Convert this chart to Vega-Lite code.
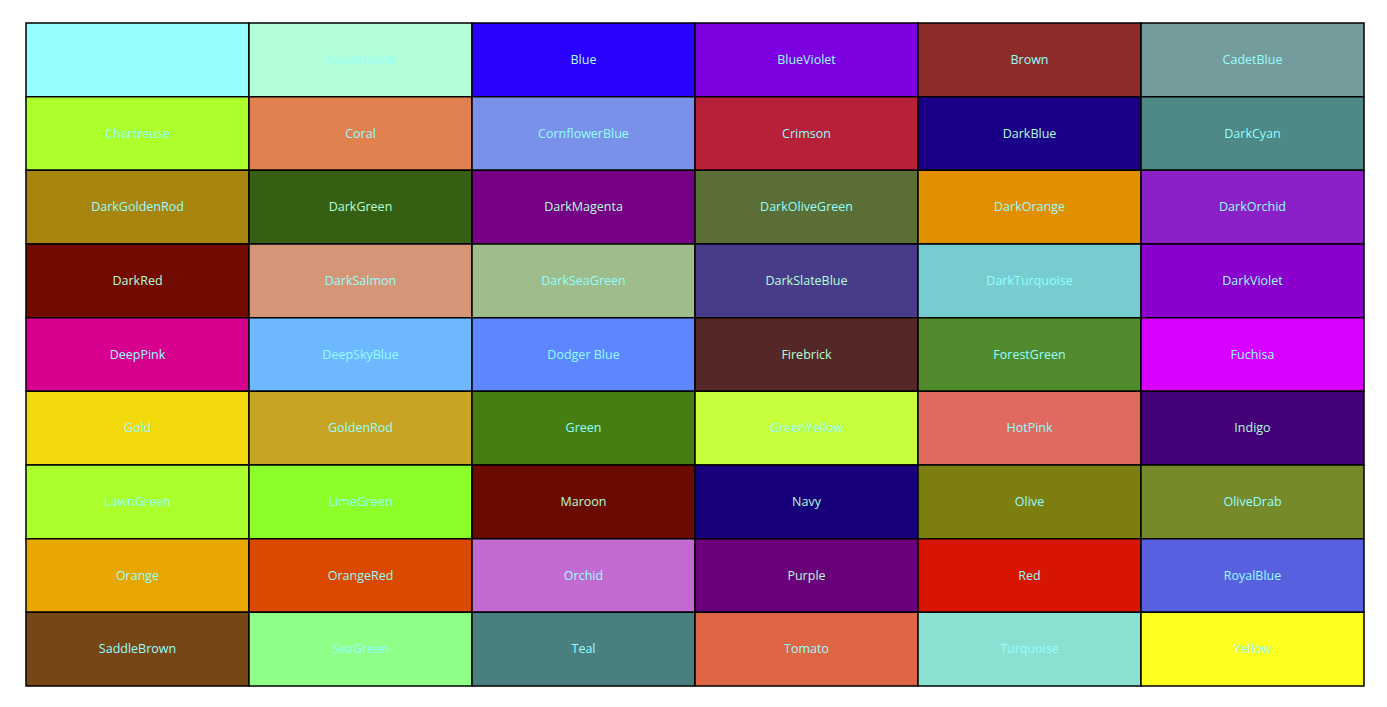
{
  "$schema": "https://vega.github.io/schema/vega-lite/v6.json",
  "width": 1387,
  "height": 707,
  "autosize": {"type": "fit", "contains": "padding"},
  "padding": {"left": 25, "top": 22, "right": 22, "bottom": 20},
  "background": "white",
  "data": {
    "values": [
      {"name": "Aqua", "col": 1, "row": 1, "tone": "light"},
      {"name": "Aquamarine", "col": 2, "row": 1, "tone": "light"},
      {"name": "Blue", "col": 3, "row": 1, "tone": "dark"},
      {"name": "BlueViolet", "col": 4, "row": 1, "tone": "light"},
      {"name": "Brown", "col": 5, "row": 1, "tone": "light"},
      {"name": "CadetBlue", "col": 6, "row": 1, "tone": "light"},
      {"name": "Chartreuse", "col": 1, "row": 2, "tone": "light"},
      {"name": "Coral", "col": 2, "row": 2, "tone": "light"},
      {"name": "CornflowerBlue", "col": 3, "row": 2, "tone": "light"},
      {"name": "Crimson", "col": 4, "row": 2, "tone": "light"},
      {"name": "DarkBlue", "col": 5, "row": 2, "tone": "dark"},
      {"name": "DarkCyan", "col": 6, "row": 2, "tone": "light"},
      {"name": "DarkGoldenRod", "col": 1, "row": 3, "tone": "light"},
      {"name": "DarkGreen", "col": 2, "row": 3, "tone": "dark"},
      {"name": "DarkMagenta", "col": 3, "row": 3, "tone": "dark"},
      {"name": "DarkOliveGreen", "col": 4, "row": 3, "tone": "light"},
      {"name": "DarkOrange", "col": 5, "row": 3, "tone": "light"},
      {"name": "DarkOrchid", "col": 6, "row": 3, "tone": "light"},
      {"name": "DarkRed", "col": 1, "row": 4, "tone": "dark"},
      {"name": "DarkSalmon", "col": 2, "row": 4, "tone": "light"},
      {"name": "DarkSeaGreen", "col": 3, "row": 4, "tone": "light"},
      {"name": "DarkSlateBlue", "col": 4, "row": 4, "tone": "dark"},
      {"name": "DarkTurquoise", "col": 5, "row": 4, "tone": "light"},
      {"name": "DarkViolet", "col": 6, "row": 4, "tone": "light"},
      {"name": "DeepPink", "col": 1, "row": 5, "tone": "light"},
      {"name": "DeepSkyBlue", "col": 2, "row": 5, "tone": "light"},
      {"name": "Dodger Blue", "col": 3, "row": 5, "tone": "light"},
      {"name": "Firebrick", "col": 4, "row": 5, "tone": "dark"},
      {"name": "ForestGreen", "col": 5, "row": 5, "tone": "light"},
      {"name": "Fuchisa", "col": 6, "row": 5, "tone": "light"},
      {"name": "Gold", "col": 1, "row": 6, "tone": "light"},
      {"name": "GoldenRod", "col": 2, "row": 6, "tone": "light"},
      {"name": "Green", "col": 3, "row": 6, "tone": "light"},
      {"name": "GreenYellow", "col": 4, "row": 6, "tone": "light"},
      {"name": "HotPink", "col": 5, "row": 6, "tone": "light"},
      {"name": "Indigo", "col": 6, "row": 6, "tone": "dark"},
      {"name": "LawnGreen", "col": 1, "row": 7, "tone": "light"},
      {"name": "LimeGreen", "col": 2, "row": 7, "tone": "light"},
      {"name": "Maroon", "col": 3, "row": 7, "tone": "dark"},
      {"name": "Navy", "col": 4, "row": 7, "tone": "dark"},
      {"name": "Olive", "col": 5, "row": 7, "tone": "light"},
      {"name": "OliveDrab", "col": 6, "row": 7, "tone": "light"},
      {"name": "Orange", "col": 1, "row": 8, "tone": "light"},
      {"name": "OrangeRed", "col": 2, "row": 8, "tone": "light"},
      {"name": "Orchid", "col": 3, "row": 8, "tone": "light"},
      {"name": "Purple", "col": 4, "row": 8, "tone": "dark"},
      {"name": "Red", "col": 5, "row": 8, "tone": "light"},
      {"name": "RoyalBlue", "col": 6, "row": 8, "tone": "light"},
      {"name": "SaddleBrown", "col": 1, "row": 9, "tone": "light"},
      {"name": "SeaGreen", "col": 2, "row": 9, "tone": "light"},
      {"name": "Teal", "col": 3, "row": 9, "tone": "light"},
      {"name": "Tomato", "col": 4, "row": 9, "tone": "light"},
      {"name": "Turquoise", "col": 5, "row": 9, "tone": "light"},
      {"name": "Yellow", "col": 6, "row": 9, "tone": "light"}
    ]
  },
  "encoding": {
    "x": {"field": "col", "type": "ordinal", "axis": null, "scale": {"paddingInner": 0, "paddingOuter": 0}},
    "y": {"field": "row", "type": "ordinal", "axis": null, "scale": {"paddingInner": 0, "paddingOuter": 0}}
  },
  "layer": [
    {
      "mark": {"type": "rect", "stroke": "black", "strokeWidth": 1.5},
      "encoding": {
        "color": {
          "field": "name",
          "type": "nominal",
          "legend": null,
          "scale": {
            "domain": ["Aqua","Aquamarine","Blue","BlueViolet","Brown","CadetBlue","Chartreuse","Coral","CornflowerBlue","Crimson","DarkBlue","DarkCyan","DarkGoldenRod","DarkGreen","DarkMagenta","DarkOliveGreen","DarkOrange","DarkOrchid","DarkRed","DarkSalmon","DarkSeaGreen","DarkSlateBlue","DarkTurquoise","DarkViolet","DeepPink","DeepSkyBlue","Dodger Blue","Firebrick","ForestGreen","Fuchisa","Gold","GoldenRod","Green","GreenYellow","HotPink","Indigo","LawnGreen","LimeGreen","Maroon","Navy","Olive","OliveDrab","Orange","OrangeRed","Orchid","Purple","Red","RoyalBlue","SaddleBrown","SeaGreen","Teal","Tomato","Turquoise","Yellow"],
            "range": ["#93FFFF","#B3FFD8","#2A00FF","#7D00E0","#8C2C28","#749C9C","#ADFF2B","#E1814F","#7A91EA","#B81F38","#1A0087","#4E8887","#A8850F","#375F13","#750085","#5A6E35","#E28F00","#8B1FC8","#720A00","#D49676","#9EBC8C","#483C8A","#77CCD0","#8A00CC","#D8008E","#6EB8FF","#5E87FF","#562727","#518A2D","#D800FF","#F2D90C","#C8A424","#457F14","#C7FF3C","#E06A60","#430077","#ABFF2B","#8CFF2B","#6B0A00","#17007A","#7D7E10","#768A2B","#E8A600","#DB4800","#C36AD2","#6A007A","#D81500","#5960E0","#774616","#8FFF87","#4A7F7F","#DE6644","#8AE0D1","#FFFF20"]
          }
        }
      }
    },
    {
      "mark": {"type": "text", "font": "Open Sans", "fontSize": 12.5, "baseline": "middle"},
      "encoding": {
        "text": {"field": "name"},
        "color": {"field": "tone", "type": "nominal", "legend": null, "scale": {"domain": ["light", "dark"], "range": ["black", "white"]}}
      }
    }
  ],
  "config": {"view": {"stroke": null}}
}
